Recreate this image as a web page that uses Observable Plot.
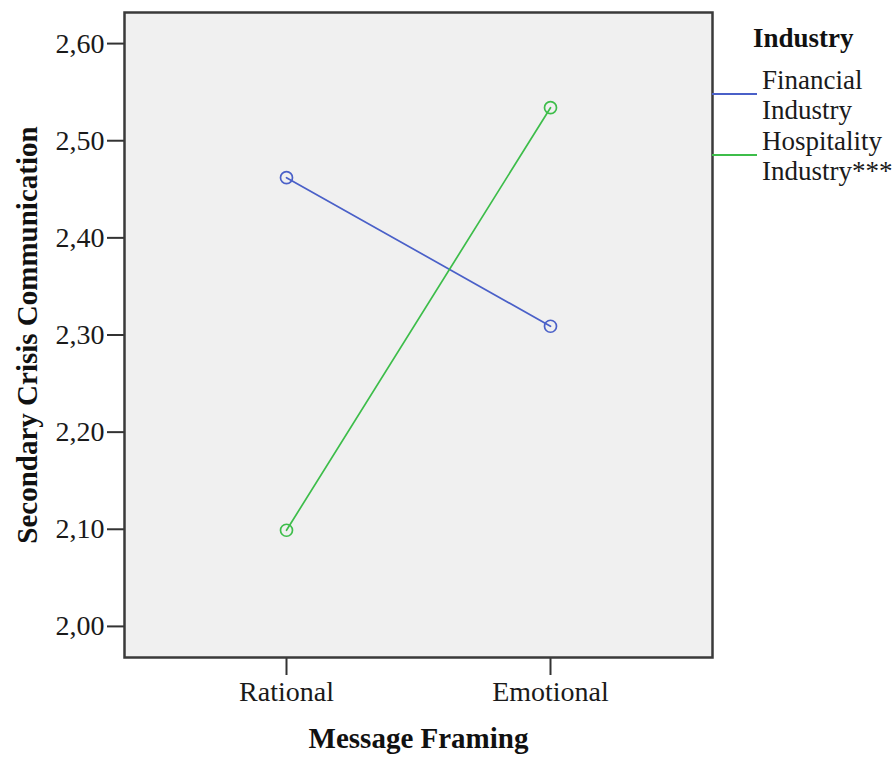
<!DOCTYPE html>
<html>
<head>
<meta charset="utf-8">
<script src="https://cdn.jsdelivr.net/npm/d3@7"></script>
<script src="https://cdn.jsdelivr.net/npm/@observablehq/plot@0.6"></script>
<style>
  html, body { margin: 0; padding: 0; background: #fff; }
  #chart { position: relative; width: 895px; height: 757px; }
</style>
</head>
<body>
<div id="chart"></div>
<script>
const framing = ["Rational", "Emotional"];
const industries = ["Financial Industry", "Hospitality Industry***"];
const legendLines = [["Financial", "Industry"], ["Hospitality", "Industry***"]];
const financial = [2.462, 2.309];
const hospitality = [2.099, 2.534];
const yTicks = [2.0, 2.1, 2.2, 2.3, 2.4, 2.5, 2.6];
const colors = ["#4a60c8", "#3dbd4a"];

const data = [];
framing.forEach((f, i) => {
  data.push({framing: f, industry: industries[0], value: financial[i]});
  data.push({framing: f, industry: industries[1], value: hospitality[i]});
});

const font = "'Liberation Serif', 'Times New Roman', serif";
const fmt = d => d.toFixed(2).replace(".", ",");

const chart = Plot.plot({
  width: 895,
  height: 757,
  marginLeft: 124,
  marginRight: 183,
  marginTop: 12,
  marginBottom: 100,
  style: {fontFamily: font, fontSize: "28px", color: "#1a1a1a", background: "#fff"},
  x: {type: "point", domain: framing, padding: 0.61, label: null},
  y: {domain: [1.968, 2.632], label: null},
  color: {domain: industries, range: colors},
  marks: [
    Plot.frame({fill: "#f0f0f0", stroke: null}),
    Plot.axisY({ticks: yTicks, tickFormat: fmt, tickSize: 17, tickPadding: 3, stroke: "#333", strokeWidth: 2, fontSize: 28, fill: "#1a1a1a"}),
    Plot.axisX({tickSize: 18, tickPadding: 6, stroke: "#333", strokeWidth: 2, fontSize: 28, fill: "#1a1a1a"}),
    Plot.line(data, {x: "framing", y: "value", z: "industry", stroke: "industry", strokeWidth: 1.7}),
    Plot.dot(data, {x: "framing", y: "value", stroke: "industry", r: 6, strokeWidth: 1.7, fill: "none"}),
    Plot.frame({stroke: "#3a3a3a", strokeWidth: 2.5}),
    Plot.text(["Message Framing"], {frameAnchor: "bottom", dy: 90, fontWeight: "bold", fontSize: 29, fill: "#111"}),
    Plot.text(["Secondary Crisis Communication"], {frameAnchor: "left", textAnchor: "middle", dx: -97, rotate: -90, fontWeight: "bold", fontSize: 29, fill: "#111"})
  ]
});

// Legend (drawn with d3 into the same SVG, right margin)
const svg = d3.select(chart);
const lg = svg.append("g").attr("font-family", font).attr("text-anchor", "start");
const frameRight = 895 - 183;
lg.append("text").attr("x", 753).attr("y", 47).attr("font-weight", "bold").attr("font-size", 27).attr("fill", "#111").text("Industry");
const entryY = [94, 155];
industries.forEach((ind, i) => {
  lg.append("line").attr("x1", frameRight).attr("x2", 757).attr("y1", entryY[i]).attr("y2", entryY[i])
    .attr("stroke", colors[i]).attr("stroke-width", 2);
  legendLines[i].forEach((t, j) => {
    lg.append("text").attr("x", 762).attr("y", entryY[i] - 5 + j * 30).attr("font-size", 27).attr("fill", "#1a1a1a").text(t);
  });
});

document.getElementById("chart").appendChild(chart);
</script>
</body>
</html>
